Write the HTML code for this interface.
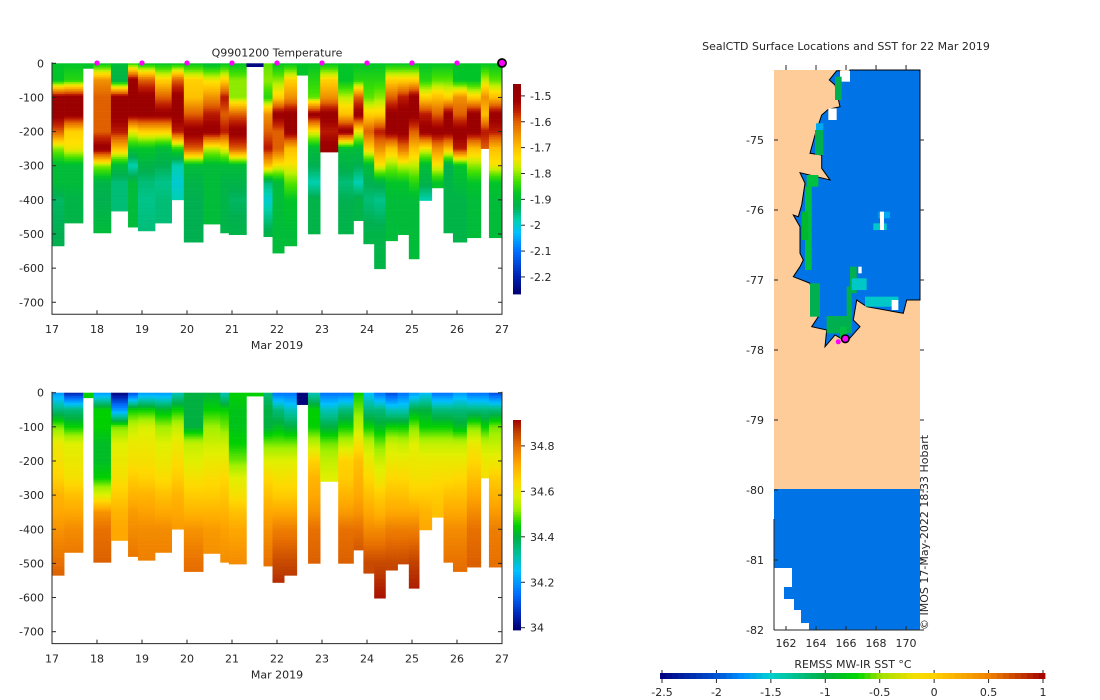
<!DOCTYPE html>
<html><head><meta charset="utf-8"><style>
html,body{margin:0;padding:0;background:#fff;width:1100px;height:700px;overflow:hidden}
svg{font-family:"DejaVu Sans","Liberation Sans",sans-serif;}
text{fill:#262626;font-size:11px}
</style></head><body>
<svg id="svg" width="1100" height="700" viewBox="0 0 1100 700" xmlns="http://www.w3.org/2000/svg">
<g id="gtop"></g>
<g id="gbot"></g>
<g id="gmap"></g>
</svg>
<script>
// ---------- data ----------
const colStart=[17.0,17.27,17.69,17.92,18.31,18.69,18.91,19.29,19.66,19.93,20.36,20.74,20.93,21.32,21.70,21.90,22.16,22.44,22.69,22.96,23.36,23.70,23.92,24.16,24.41,24.68,24.93,25.16,25.44,25.70,25.91,26.22,26.53,26.71];
const colEnd=[17.27,17.69,17.92,18.31,18.69,18.91,19.29,19.66,19.93,20.36,20.74,20.93,21.32,21.70,21.90,22.16,22.44,22.69,22.96,23.36,23.70,23.92,24.16,24.41,24.68,24.93,25.16,25.44,25.70,25.91,26.22,26.53,26.71,27.0];
const colDepth=[535,468,15,497,433,480,491,468,400,524,471,497,502,10,508,556,535,35,500,260,500,461,529,602,520,502,573,402,365,497,524,511,250,511];
const gridDepth=[0,50,100,150,200,250,300,350,400,500,600];
const temps=[
[-1.88,-1.88,-1.5,-1.5,-1.6,-1.8,-1.9,-1.9,-1.94,-1.93,-1.93],
[-1.88,-1.85,-1.5,-1.5,-1.72,-1.75,-1.9,-1.9,-1.92,-1.92],
[-1.88],
[-1.88,-1.65,-1.6,-1.6,-1.6,-1.5,-1.8,-1.92,-1.93,-1.9],
[-1.9,-1.92,-1.5,-1.5,-1.55,-1.7,-1.9,-1.95,-1.95],
[-1.85,-1.5,-1.5,-1.5,-1.75,-1.88,-1.98,-1.9,-1.9,-1.9],
[-1.88,-1.6,-1.5,-1.5,-1.72,-1.88,-1.92,-1.95,-1.96,-1.95],
[-1.88,-1.72,-1.6,-1.5,-1.72,-1.9,-1.93,-1.96,-1.95,-1.95],
[-1.88,-1.6,-1.5,-1.5,-1.55,-1.85,-1.98,-2.0,-1.98],
[-1.88,-1.72,-1.7,-1.6,-1.5,-1.6,-1.9,-1.92,-1.93,-1.93,-1.93],
[-1.9,-1.75,-1.65,-1.55,-1.5,-1.78,-1.9,-1.9,-1.9,-1.9],
[-1.88,-1.72,-1.55,-1.6,-1.55,-1.75,-1.9,-1.92,-1.92,-1.92],
[-1.88,-1.8,-1.8,-1.6,-1.5,-1.6,-1.9,-1.92,-1.94,-1.92,-1.92],
[-2.25],
[-1.82,-1.8,-1.85,-1.65,-1.6,-1.55,-1.7,-1.95,-2.0,-1.92,-1.92],
[-1.88,-1.8,-1.72,-1.5,-1.6,-1.6,-1.75,-1.9,-1.9,-1.9,-1.9],
[-1.88,-1.72,-1.65,-1.5,-1.5,-1.7,-1.75,-1.82,-1.88,-1.9,-1.9],
[-1.88],
[-1.88,-1.85,-1.82,-1.5,-1.75,-1.9,-1.93,-1.98,-1.92,-1.92],
[-1.88,-1.72,-1.65,-1.5,-1.55,-1.5],
[-1.88,-1.88,-1.78,-1.7,-1.5,-1.9,-1.92,-1.95,-1.93,-1.92],
[-1.88,-1.85,-1.6,-1.5,-1.75,-1.9,-1.93,-1.98,-1.92,-1.92],
[-1.88,-1.85,-1.82,-1.72,-1.6,-1.72,-1.9,-1.93,-1.95,-1.92,-1.92],
[-1.88,-1.85,-1.8,-1.72,-1.55,-1.65,-1.75,-1.92,-1.96,-1.92,-1.92],
[-1.88,-1.72,-1.6,-1.5,-1.5,-1.7,-1.8,-1.88,-1.9,-1.9,-1.9],
[-1.88,-1.72,-1.55,-1.5,-1.5,-1.62,-1.78,-1.88,-1.9,-1.9],
[-1.88,-1.72,-1.5,-1.5,-1.6,-1.7,-1.78,-1.85,-1.9,-1.9,-1.9],
[-1.88,-1.85,-1.72,-1.55,-1.5,-1.75,-1.9,-1.92,-1.98],
[-1.88,-1.82,-1.7,-1.6,-1.5,-1.65,-1.75,-1.88],
[-1.88,-1.82,-1.72,-1.5,-1.5,-1.7,-1.93,-1.92,-1.92,-1.92],
[-1.88,-1.88,-1.65,-1.6,-1.5,-1.55,-1.88,-1.9,-1.92,-1.92,-1.92],
[-1.88,-1.88,-1.72,-1.5,-1.5,-1.7,-1.8,-1.88,-1.9,-1.9],
[-1.88,-1.78,-1.65,-1.7,-1.55,-1.6],
[-1.88,-1.82,-1.7,-1.5,-1.55,-1.7,-1.75,-1.88,-1.9,-1.9,-1.9]];
const sals=[
[34.2,34.35,34.5,34.6,34.62,34.65,34.7,34.72,34.75,34.8,34.85],
[34.05,34.35,34.45,34.58,34.6,34.62,34.68,34.72,34.76,34.8],
[34.45],
[34.2,34.45,34.45,34.42,34.42,34.45,34.58,34.75,34.8,34.82],
[34.0,34.2,34.5,34.58,34.6,34.62,34.66,34.7,34.72],
[34.1,34.45,34.55,34.6,34.62,34.66,34.7,34.74,34.76,34.8],
[34.2,34.45,34.57,34.6,34.62,34.65,34.7,34.73,34.76,34.78],
[34.2,34.42,34.52,34.58,34.6,34.63,34.68,34.72,34.76,34.78],
[34.3,34.45,34.55,34.6,34.63,34.66,34.7,34.72,34.74],
[34.4,34.4,34.4,34.55,34.58,34.62,34.66,34.7,34.75,34.8,34.82],
[34.4,34.45,34.52,34.56,34.6,34.63,34.66,34.7,34.74,34.76],
[34.3,34.45,34.5,34.56,34.6,34.64,34.67,34.7,34.73,34.76],
[34.45,34.43,34.43,34.45,34.5,34.58,34.62,34.68,34.72,34.76,34.78],
[34.45],
[34.35,34.4,34.4,34.5,34.58,34.64,34.68,34.72,34.75,34.8,34.82],
[34.15,34.35,34.42,34.5,34.58,34.62,34.66,34.72,34.78,34.85,34.9],
[34.15,34.3,34.4,34.5,34.58,34.62,34.66,34.72,34.78,34.85,34.9],
[34.0],
[34.3,34.45,34.45,34.55,34.65,34.7,34.72,34.75,34.8,34.82],
[34.15,34.3,34.4,34.5,34.55,34.58],
[34.15,34.35,34.45,34.55,34.65,34.66,34.7,34.74,34.8,34.82],
[34.45,34.5,34.55,34.62,34.68,34.7,34.72,34.75,34.8,34.85],
[34.25,34.35,34.45,34.55,34.6,34.64,34.68,34.72,34.76,34.85,34.85],
[34.15,34.35,34.42,34.5,34.56,34.6,34.66,34.7,34.76,34.85,34.9],
[34.1,34.3,34.45,34.56,34.6,34.64,34.68,34.72,34.78,34.85,34.88],
[34.15,34.3,34.45,34.55,34.6,34.64,34.68,34.72,34.78,34.85],
[34.2,34.4,34.5,34.58,34.6,34.62,34.66,34.72,34.78,34.86,34.9],
[34.25,34.4,34.45,34.55,34.6,34.62,34.66,34.7,34.72],
[34.15,34.35,34.45,34.55,34.6,34.63,34.66,34.68],
[34.15,34.35,34.45,34.55,34.6,34.63,34.68,34.72,34.76,34.8],
[34.2,34.35,34.42,34.55,34.6,34.64,34.68,34.72,34.76,34.8,34.82],
[34.15,34.35,34.5,34.6,34.64,34.68,34.72,34.76,34.8,34.82],
[34.15,34.35,34.45,34.55,34.6,34.62],
[34.1,34.35,34.5,34.55,34.6,34.66,34.7,34.74,34.78,34.8,34.82]];
const dayTicks=[17,18,19,20,21,22,23,24,25,26,27];
const depthTicks=[0,-100,-200,-300,-400,-500,-600,-700];
const markerDays=[18,19,20,21,22,23,24,25,26];
const lastMarkerDay=27;
const tempTicks=[-1.5,-1.6,-1.7,-1.8,-1.9,-2,-2.1,-2.2];
const salTicks=[34.8,34.6,34.4,34.2,34];
const lonTicks=[162,164,166,168,170];
const latTicks=[-75,-76,-77,-78,-79,-80,-81,-82];
const sstTicks=[-2.5,-2,-1.5,-1,-0.5,0,0.5,1];
const castLon=165.95, castLat=-77.84;

// ---------- helpers ----------
const NS='http://www.w3.org/2000/svg';
function el(tag,attrs,parent,txt){const e=document.createElementNS(NS,tag);for(const k in attrs)e.setAttribute(k,attrs[k]);if(txt!==undefined)e.textContent=txt;parent.appendChild(e);return e;}
function hex(h){return [parseInt(h.substr(1,2),16),parseInt(h.substr(3,2),16),parseInt(h.substr(5,2),16)];}
function cmap(stops){return v=>{if(v<=stops[0][0])return stops[0][1];if(v>=stops[stops.length-1][0])return stops[stops.length-1][1];
 for(let i=0;i<stops.length-1;i++){const a=stops[i],b=stops[i+1];if(v>=a[0]&&v<=b[0]){const t=(v-a[0])/(b[0]-a[0]);const A=hex(a[1]),B=hex(b[1]);return 'rgb('+A.map((x,j)=>Math.round(x+(B[j]-x)*t)).join(',')+')';}}return stops[0][1];};}
const tCol=cmap([[-2.266,'#000070'],[-2.2,'#0020b0'],[-2.1,'#0070ff'],[-2.03,'#00c0ff'],[-1.98,'#00d0b0'],[-1.93,'#00b050'],[-1.88,'#00c428'],[-1.83,'#40e000'],[-1.78,'#c0f000'],[-1.74,'#ffe000'],[-1.7,'#ffc000'],[-1.65,'#f09000'],[-1.6,'#e06000'],[-1.56,'#c02000'],[-1.52,'#a00000'],[-1.454,'#900000']]);
const sCol=cmap([[33.99,'#000070'],[34.05,'#0020b0'],[34.15,'#0070ff'],[34.25,'#00c0ff'],[34.32,'#00c0a0'],[34.4,'#00b040'],[34.45,'#00d000'],[34.52,'#a0f000'],[34.58,'#e0f000'],[34.64,'#ffd800'],[34.72,'#ffa800'],[34.8,'#e87000'],[34.86,'#c04000'],[34.914,'#a00000']]);
const sstCol=cmap([[-2.5,'#000080'],[-2.0,'#0050d0'],[-1.75,'#0090ff'],[-1.5,'#00d0d0'],[-1.0,'#00b040'],[-0.7,'#00d800'],[-0.5,'#a0e000'],[-0.2,'#f0e000'],[0,'#ffd000'],[0.5,'#f08000'],[1,'#a00000']]);
function interp(arr,d){const n=arr.length;if(n===1)return arr[0];for(let i=0;i<n-1;i++){if(d<=gridDepth[i+1]){const t=(d-gridDepth[i])/(gridDepth[i+1]-gridDepth[i]);return arr[i]+(arr[i+1]-arr[i])*t;}}return arr[n-1];}

function panel(g,y0,vals,colf,cbTop,cbBot,cbMax,cbMin,cbTicks,cbName,title){
 const xL=52,xR=502,yTopPx=y0,pxm=0.3414;
 const X=d=>xL+(d-17)*(xR-xL)/10, Y=m=>yTopPx-m*pxm;
 const yBox=Y(-735);
 for(let c=0;c<colStart.length;c++){
  const step=5;
  for(let d=0;d<colDepth[c];d+=step){
   const h=Math.min(step,colDepth[c]-d);
   const r=el('rect',{x:X(colStart[c]).toFixed(2),y:Y(-d).toFixed(2),width:(X(colEnd[c])-X(colStart[c])+0.3).toFixed(2),height:(h*pxm+0.3).toFixed(2),fill:colf(interp(vals[c],d+h/2))},g);
   
   
  }
 }
 const ax=el('path',{d:`M${xL},${Y(0)-1}V${yBox}H${xR}V${Y(0)-1}`,fill:'none',stroke:'#262626','stroke-width':1},g);
 
 depthTicks.forEach(t=>{const y=Y(t);el('line',{x1:xL,x2:xL+4,y1:y,y2:y,stroke:'#262626'},g);el('line',{x1:xR,x2:xR-4,y1:y,y2:y,stroke:'#262626'},g);
  const tx=el('text',{x:xL-8,y:y+4,'text-anchor':'end'},g,t===0?'0':'-'+(-t));});
 dayTicks.forEach(t=>{const x=X(t);el('line',{x1:x,x2:x,y1:yBox,y2:yBox-4,stroke:'#262626'},g);
  const tx=el('text',{x:x,y:yBox+19,'text-anchor':'middle'},g,String(t));});
 const xl=el('text',{x:277,y:yBox+35,'text-anchor':'middle'},g,'Mar 2019');
 if(title){const tt=el('text',{x:277,y:yTopPx-7,'text-anchor':'middle','xml:space':'preserve'},g,title);}
 const cb=el('g',{},g);
 const n=80;for(let i=0;i<n;i++){const v=cbMax-(cbMax-cbMin)*(i+0.5)/n;el('rect',{x:513,y:cbTop+(cbBot-cbTop)*i/n,width:8,height:(cbBot-cbTop)/n+0.4,fill:colf(v)},cb);}
 const CY=v=>cbTop+(cbMax-v)/(cbMax-cbMin)*(cbBot-cbTop);
 cbTicks.forEach(t=>{const y=CY(t);el('line',{x1:521,x2:525,y1:y,y2:y,stroke:'#262626'},cb);
  const tx=el('text',{x:530,y:y+4},cb,String(t));});
 return {X,Y};
}
const gTop=document.getElementById('gtop'),gBot=document.getElementById('gbot'),gMap=document.getElementById('gmap');
const P1=panel(gTop,63.3,temps,tCol,84,294,-1.454,-2.266,tempTicks,'temperature-colorbar','Q9901200  Temperature');
panel(gBot,392.7,sals,sCol,420,630,34.914,33.99,salTicks,'salinity-colorbar',null);
markerDays.forEach(d=>{const c=el('circle',{cx:P1.X(d),cy:63,r:2.6,fill:'#ff00ff'},gTop);});
{const c=el('circle',{cx:P1.X(lastMarkerDay),cy:63,r:4,fill:'#ff00ff',stroke:'#000','stroke-width':1.8},gTop);}

// ---------- map ----------
const mL=774,mR=920,mT=70,mB=630,lon0=161.2,lon1=170.93,lat0=-74,lat1=-82;
const MX=l=>mL+(l-lon0)/(lon1-lon0)*(mR-mL), MY=l=>mT+(l-lat0)/(lat1-lat0)*(mB-mT);
const zp=p=>(740+p[0]/3).toFixed(1)+','+(40+p[1]/3).toFixed(1);
const zr=(x0,y0,x1,y1,fill,name)=>{const r=el('rect',{x:740+x0/3,y:40+y0/3,width:(x1-x0)/3,height:(y1-y0)/3,fill:fill},gMap);return r;};
const mt=el('text',{x:846,y:50,'text-anchor':'middle'},gMap,'SealCTD Surface Locations and SST for 22 Mar 2019');
const land=el('rect',{x:mL,y:mT,width:mR-mL,height:489-mT,fill:'#fecc98'},gMap);
const zc=[[290,92],[268,120],[285,135],[300,200],[265,208],[245,225],[225,285],[210,340],[245,345],[245,385],[270,420],[180,398],[195,430],[185,495],[175,530],[160,525],[180,560],[180,640],[190,660],[180,680],[160,710],[210,730],[220,770],[235,830],[215,860],[260,870],[255,920],[285,885],[320,905],[360,860],[340,840],[350,780],[380,800],[490,820],[500,780],[540,780],[540,90],[330,90],[320,100],[300,92]];
const coast=el('polygon',{points:zc.map(zp).join(' '),fill:'#0073e6',stroke:'#000','stroke-width':1},gMap);
// white fringe + green/cyan coastal SST strips
const G='#00b050',G2='#00c040',C='#00c8c8',W='#ffffff',B2='#00a8f0';
zr(300,92,330,125,W,'coast-fringe');
zr(285,110,305,180,G,'coastal-sst');
zr(265,205,290,240,W,'coast-fringe');
zr(228,250,250,275,B2,'coastal-sst');
zr(225,270,250,345,G,'coastal-sst');
zr(200,405,235,440,G2,'coastal-sst');
zr(195,440,215,690,G2,'coastal-sst');
zr(185,515,205,600,'#00b830','coastal-sst');
zr(210,730,240,830,G,'coastal-sst');
zr(260,828,335,880,G,'coastal-sst');
zr(300,860,320,895,G2,'coastal-sst');
zr(330,680,350,760,G,'coastal-sst');
zr(335,715,380,750,C,'coastal-sst');
zr(355,680,365,700,W,'coast-fringe');
zr(320,740,335,830,G,'coastal-sst');
zr(375,770,475,800,C,'coastal-sst');
zr(455,780,475,810,W,'coast-fringe');
zr(415,515,450,535,B2,'offshore-sst');
zr(400,550,440,570,C,'offshore-sst');
zr(420,515,432,570,W,'offshore-gap');
const lo=el('rect',{x:mL,y:489,width:mR-mL,height:mB-489,fill:'#0073e6'},gMap);
el('polygon',{points:'774,568 792,568 792,587 784,587 784,599 794,599 794,610 801,610 801,623 809,623 809,630 774,630',fill:'#fff'},gMap);
el('line',{x1:mL,x2:mL,y1:519,y2:630,stroke:'#262626'},gMap);
el('line',{x1:mL,x2:mR,y1:630,y2:630,stroke:'#262626'},gMap);
el('circle',{cx:MX(castLon)-7,cy:MY(castLat)+3,r:2.5,fill:'#ff00ff'},gMap);
{const c=el('circle',{cx:MX(castLon),cy:MY(castLat),r:3.8,fill:'#ff00ff',stroke:'#000','stroke-width':1.6},gMap);}
latTicks.forEach(t=>{const y=MY(t);el('line',{x1:mL,x2:mL+4,y1:y,y2:y,stroke:'#262626'},gMap);el('line',{x1:mR,x2:mR+4,y1:y,y2:y,stroke:'#262626'},gMap);
 const tx=el('text',{x:mL-10,y:y+4,'text-anchor':'end'},gMap,String(t));});
lonTicks.forEach(t=>{const x=MX(t);el('line',{x1:x,x2:x,y1:mT-5,y2:mT,stroke:'#262626'},gMap);el('line',{x1:x,x2:x,y1:mB,y2:mB-4,stroke:'#262626'},gMap);
 const tx=el('text',{x:x,y:mB+17,'text-anchor':'middle'},gMap,String(t));});
const cr=el('text',{x:0,y:0,transform:'translate(928,630) rotate(-90)','font-size':'9'},gMap,'© IMOS 17-May-2022 18:33 Hobart');
const sb=el('g',{},gMap);
const SX=v=>662+(v+2.5)/3.5*(1043-662);
for(let i=0;i<64;i++){const v=-2.5+3.5*(i+0.5)/64;el('rect',{x:660+385*i/64,y:673,width:385/64+0.4,height:6,fill:sstCol(v)},sb);}
sstTicks.forEach(t=>{const x=SX(t);el('line',{x1:x,x2:x,y1:679,y2:683,stroke:'#262626'},sb);el('line',{x1:x,x2:x,y1:673,y2:670,stroke:'#262626'},sb);
 const tx=el('text',{x:x,y:696,'text-anchor':'middle'},sb,String(t));});
const sl=el('text',{x:853,y:668,'text-anchor':'middle'},sb,'REMSS MW-IR SST °C');
</script>
</body></html>
